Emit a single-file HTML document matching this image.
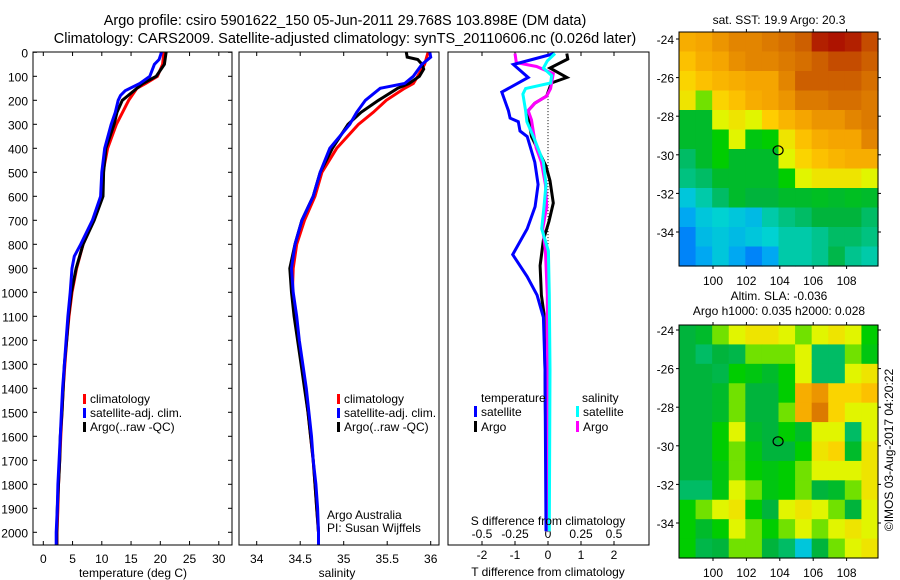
<!DOCTYPE html>
<html><head><meta charset="utf-8"><style>
body{margin:0;background:#fff;}
svg{display:block;font-family:"Liberation Sans",sans-serif;}
</style></head><body>
<svg id="fig" width="900" height="580" viewBox="0 0 900 580">
<rect width="900" height="580" fill="#fff"/>
<text x="345" y="25" font-size="14.5" text-anchor="middle">Argo profile: csiro 5901622_150 05-Jun-2011 29.768S 103.898E (DM data)</text>
<text x="345" y="43" font-size="14.5" text-anchor="middle">Climatology: CARS2009. Satellite-adjusted climatology: synTS_20110606.nc (0.026d later)</text>
<g id="g"></g>
</svg>
<script>
// ---------- data ----------
const depthTicks=[0,100,200,300,400,500,600,700,800,900,1000,1100,1200,1300,1400,1500,1600,1700,1800,1900,2000];
const tempTicks=[0,5,10,15,20,25,30];
const salTicks=[34,34.5,35,35.5,36];
const tdiffTicks=[-2,-1,0,1,2];
const sdiffTicks=[-0.5,-0.25,0,0.25,0.5];
const lonTicks=[100,102,104,106,108];
const latTicks=[-24,-26,-28,-30,-32,-34];

const tClimDepth=[0,50,100,130,150,200,300,400,500,600,700,800,900,1000,1100,1200,1300,1400,1500,1600,1700,1800,1900,2000,2055];
const tClim=[20.6,20.4,19.5,17.5,16,14.6,12.5,11,10.2,10,8.6,6.8,5.7,4.9,4.4,4.0,3.7,3.4,3.2,3.0,2.8,2.6,2.5,2.35,2.35];
const tSatDepth=[0,30,50,100,130,160,180,200,250,300,400,500,600,700,800,850,900,1000,1100,1200,1300,1400,1500,1600,1700,1800,1900,2000,2055];
const tSat=[20.2,19.8,19,18.2,16.5,14,13.2,12.8,12.3,11.6,10.5,10,9.8,8.4,6.4,5.3,4.9,4.6,4.2,3.9,3.6,3.3,3.1,2.9,2.7,2.5,2.4,2.2,2.2];
const tArgoDepth=[0,50,100,130,200,250,300,400,500,600,700,800,900,1000,1100,1200,1300,1400,1500,1600,1700,1800,1900,2000,2055];
const tArgo=[21,20.7,19.3,17,13.5,12.6,12.1,10.7,10.3,10.2,8.7,6.8,5.6,4.8,4.3,4.0,3.6,3.4,3.2,2.9,2.8,2.6,2.4,2.3,2.3];

const sClimDepth=[0,50,100,130,150,200,250,300,400,500,600,700,800,900,1000,1100,1200,1300,1400,1500,1600,1700,1800,1900,2000,2055];
const sClim=[35.97,35.93,35.85,35.8,35.7,35.49,35.34,35.17,34.92,34.75,34.67,34.55,34.46,34.42,34.41,34.44,34.48,34.52,34.555,34.59,34.62,34.65,34.67,34.69,34.71,34.71];
const sSatDepth=[0,20,50,100,130,150,200,250,300,400,500,600,700,800,900,1000,1100,1200,1300,1400,1500,1600,1700,1800,1900,2000,2055];
const sSat=[35.99,36.0,35.9,35.8,35.7,35.42,35.25,35.15,35.07,34.84,34.73,34.65,34.52,34.44,34.40,34.42,34.46,34.49,34.53,34.57,34.60,34.63,34.65,34.68,34.70,34.71,34.71];
const sArgoDepth=[0,20,30,50,70,100,130,150,200,250,300,400,500,600,700,800,900,1000,1100,1200,1300,1400,1500,1600,1700,1800,1900,2000,2030];
const sArgo=[35.72,35.73,35.85,35.9,35.92,35.87,35.75,35.62,35.4,35.2,35.05,34.87,34.73,34.65,34.52,34.44,34.38,34.40,34.43,34.47,34.51,34.55,34.59,34.62,34.65,34.67,34.69,34.71,34.71];

const dTSatDepth=[5,51,105,166,243,274,289,328,351,458,551,643,735,843,935,1012,1104,1320,1996];
const dTSat=[0.2,-1.05,-0.6,-1.4,-1.2,-1.15,-0.9,-0.85,-0.63,-0.4,-0.3,-0.39,-0.63,-1.07,-0.63,-0.33,-0.14,-0.09,-0.06];
const dTArgoDepth=[5,28,66,105,128,182,212,243,312,351,474,535,628,704,782,889,1012,1089,1320,1719];
const dTArgo=[0.57,0.6,0.06,0.57,0.1,-0.04,-0.4,-0.6,-0.55,-0.5,-0.06,0.06,0.16,0.03,-0.14,-0.24,-0.2,-0.12,-0.09,-0.06];
const dSSatDepth=[5,36,66,97,128,151,174,243,289,366,458,551,643,735,828,1012,1320,1996];
const dSSat=[0.053,-0.005,-0.035,0.028,0.02,-0.17,-0.19,-0.17,-0.16,-0.1,-0.035,-0.015,-0.03,-0.048,0.003,0.01,0.015,0.01];
const dSArgoDepth=[5,43,59,89,151,182,212,243,282,335,397,458,551,643,735,828,1012,1320,1996];
const dSArgo=[-0.25,-0.24,-0.086,0.04,0.02,-0.01,-0.1,-0.15,-0.125,-0.11,-0.09,-0.05,-0.02,-0.01,-0.04,-0.02,-0.005,-0.005,-0.005];

const sstGrid=[
[0.7,0.72,0.75,0.78,0.78,0.8,0.82,0.85,0.95,0.97,0.95,0.88],
[0.65,0.7,0.72,0.76,0.78,0.78,0.8,0.82,0.85,0.88,0.88,0.85],
[0.6,0.65,0.68,0.7,0.72,0.72,0.78,0.85,0.85,0.85,0.85,0.82],
[0.55,0.45,0.6,0.65,0.7,0.72,0.75,0.8,0.8,0.82,0.82,0.8],
[0.35,0.35,0.5,0.55,0.5,0.62,0.68,0.72,0.75,0.75,0.78,0.8],
[0.35,0.35,0.4,0.5,0.38,0.4,0.55,0.65,0.7,0.72,0.72,0.78],
[0.3,0.35,0.4,0.35,0.35,0.35,0.5,0.6,0.65,0.68,0.7,0.7],
[0.28,0.3,0.35,0.35,0.35,0.35,0.4,0.5,0.55,0.55,0.55,0.5],
[0.2,0.25,0.3,0.35,0.33,0.33,0.35,0.35,0.36,0.35,0.36,0.35],
[0.15,0.2,0.22,0.2,0.18,0.25,0.28,0.3,0.33,0.33,0.33,0.3],
[0.1,0.18,0.2,0.18,0.2,0.22,0.25,0.25,0.27,0.3,0.3,0.28],
[0.1,0.15,0.2,0.15,0.1,0.15,0.25,0.25,0.27,0.32,0.27,0.25]];
const slaGrid=[
[0.33,0.35,0.45,0.5,0.55,0.55,0.5,0.45,0.5,0.55,0.5,0.4],
[0.33,0.3,0.33,0.32,0.45,0.45,0.45,0.5,0.3,0.3,0.45,0.38],
[0.33,0.33,0.32,0.4,0.38,0.35,0.4,0.5,0.3,0.3,0.5,0.55],
[0.33,0.33,0.35,0.45,0.33,0.33,0.4,0.7,0.75,0.6,0.6,0.65],
[0.33,0.33,0.35,0.45,0.33,0.33,0.45,0.7,0.8,0.6,0.5,0.5],
[0.33,0.33,0.4,0.5,0.35,0.33,0.4,0.35,0.5,0.5,0.3,0.5],
[0.33,0.33,0.4,0.45,0.38,0.33,0.33,0.4,0.55,0.6,0.35,0.55],
[0.33,0.33,0.38,0.45,0.4,0.38,0.4,0.45,0.5,0.5,0.5,0.55],
[0.3,0.3,0.38,0.5,0.45,0.38,0.4,0.45,0.33,0.35,0.45,0.55],
[0.4,0.45,0.5,0.55,0.4,0.33,0.5,0.55,0.5,0.45,0.33,0.5],
[0.4,0.35,0.4,0.5,0.45,0.4,0.45,0.5,0.45,0.5,0.55,0.5],
[0.4,0.32,0.33,0.45,0.45,0.33,0.3,0.2,0.33,0.45,0.5,0.55]];
const floatLon=103.898, floatLat=-29.768;

// ---------- helpers ----------
const NS="http://www.w3.org/2000/svg";
const G=document.getElementById('g');
function mk(tag,attrs,parent){const e=document.createElementNS(NS,tag);for(const k in attrs)e.setAttribute(k,attrs[k]);(parent||G).appendChild(e);return e;}
const yD=d=>52.3+d*0.24;
const xT=t=>43.3+t*5.85;
const xS=s=>256.7+(s-34)*87;
const xdT=t=>548+t*33;
const xdS=s=>548+s*132;
const xLon=l=>713+(l-100)*16.7;
const yLatTop=l=>39+(-24-l)*19.3;
const yLatBot=l=>330+(-24-l)*19.3;
function txt(x,y,s,anchor,size,name){const t=mk('text',{x:x,y:y,'font-size':size||12,'text-anchor':anchor||'middle'});t.textContent=s;


return t;}
function line(xs,ys,fx,color,w,name){
 const pts=xs.map((v,i)=>fx(v).toFixed(1)+','+yD(ys[i]).toFixed(1)).join(' ');
 const p=mk('polyline',{points:pts,fill:'none',stroke:color,'stroke-width':w||3,'stroke-linejoin':'miter'});
 
 
}
function frame(x0,x1,y0,y1,name){const r=mk('rect',{x:x0,y:y0,width:x1-x0,height:y1-y0,fill:'none',stroke:'#000','stroke-width':1});

}
function xticks(vals,fx,y0,y1,fmt,name){vals.forEach(v=>{const x=fx(v);mk('line',{x1:x,x2:x,y1:y1,y2:y1-4,stroke:'#000'});mk('line',{x1:x,x2:x,y1:y0,y2:y0+4,stroke:'#000'});
 txt(x,y1+18,fmt?fmt(v):String(v),'middle',12,name);});}

// ---------- panel 1: temperature ----------
const P0=52,P1=545;
depthTicks.forEach(d=>{const y=yD(d);mk('line',{x1:33,x2:37,y1:y,y2:y,stroke:'#000'});mk('line',{x1:228,x2:232,y1:y,y2:y,stroke:'#000'});txt(28,y+5,String(d),'end',12,'depth-tick-label');});
xticks(tempTicks,xT,P0,P1,null,'temperature-tick-label');
line(tClim,tClimDepth,xT,'#f00',3,'temp-climatology-line');
line(tArgo,tArgoDepth,xT,'#000',3,'temp-argo-line');
line(tSat,tSatDepth,xT,'#00f',3,'temp-satellite-line');
frame(33,232,P0,P1,'temperature-panel-frame');
txt(133,577,'temperature (deg C)','middle',12,'temperature-axis-title');
function legend1(x,name){
 [['#f00','climatology',403],['#00f','satellite-adj. clim.',417],['#000','Argo(..raw -QC)',431]].forEach(([c,l,y])=>{
  const r=mk('rect',{x:x,y:y-9,width:3,height:10,fill:c});
  txt(x+7,y,l,'start',12,name+'-label');});
}
legend1(83,'temperature-legend');

// ---------- panel 2: salinity ----------
xticks(salTicks,xS,P0,P1,null,'salinity-tick-label');
line(sClim,sClimDepth,xS,'#f00',3,'sal-climatology-line');
line(sArgo,sArgoDepth,xS,'#000',3,'sal-argo-line');
line(sSat,sSatDepth,xS,'#00f',3,'sal-satellite-line');
frame(239,439,P0,P1,'salinity-panel-frame');
txt(337,577,'salinity','middle',12,'salinity-axis-title');
legend1(337,'salinity-legend');
txt(327,519,'Argo Australia','start',12,'institution-label');
txt(327,532,'PI: Susan Wijffels','start',12,'pi-label');

// ---------- panel 3: differences ----------
tdiffTicks.forEach(v=>{const x=xdT(v);mk('line',{x1:x,x2:x,y1:P1,y2:P1-4,stroke:'#000'});mk('line',{x1:x,x2:x,y1:P0,y2:P0+4,stroke:'#000'});txt(x,P1+14,String(v),'middle',12,'tdiff-tick-label');});
sdiffTicks.forEach(v=>{const x=xdS(v);txt(x,538,String(v),'middle',12,'sdiff-tick-label');});
const zl=mk('line',{x1:548,x2:548,y1:yD(170),y2:yD(2000),stroke:'#000','stroke-dasharray':'1,2','stroke-width':1});

line(dTArgo,dTArgoDepth,xdT,'#000',3,'tdiff-argo-line');
line(dSArgo,dSArgoDepth,xdS,'#f0f',3,'sdiff-argo-line');
line(dTSat,dTSatDepth,xdT,'#00f',3,'tdiff-satellite-line');
line(dSSat,dSSatDepth,xdS,'#0ff',3,'sdiff-satellite-line');
frame(448,649,P0,P1,'difference-panel-frame');
txt(548,525,'S difference from climatology','middle',12,'sdiff-axis-title');
txt(548,576,'T difference from climatology','middle',12,'tdiff-axis-title');
txt(481,402,'temperature','start',12,'tdiff-legend-title');
txt(582,402,'salinity','start',12,'sdiff-legend-title');
[['#00f','satellite',474,416],['#000','Argo',474,431],['#0ff','satellite',576,416],['#f0f','Argo',576,431]].forEach(([c,l,x,y])=>{
 const r=mk('rect',{x:x,y:y-10,width:3,height:11,fill:c});
 txt(x+7,y,l,'start',12,'diff-legend-label');});

// ---------- maps ----------
const stops=[[0,[0,40,220]],[0.12,[0,150,255]],[0.22,[0,210,210]],[0.33,[0,180,60]],[0.4,[0,205,0]],[0.5,[225,245,0]],[0.62,[255,205,0]],[0.72,[245,165,0]],[0.85,[205,95,0]],[1,[165,0,0]]];
function cmap(v){for(let i=1;i<stops.length;i++){if(v<=stops[i][0]){const a=stops[i-1],b=stops[i];const f=(v-a[0])/(b[0]-a[0]);return 'rgb('+a[1].map((c,k)=>Math.round(c+(b[1][k]-c)*f)).join(',')+')';}}return 'rgb(165,0,0)';}
function drawMap(grid,y0,y1,yLat,name){
 const x0=679,x1=878,nr=grid.length,nc=grid[0].length,cw=(x1-x0)/nc,ch=(y1-y0)/nr;
 grid.forEach((row,i)=>row.forEach((v,j)=>{const r=mk('rect',{x:(x0+j*cw).toFixed(2),y:(y0+i*ch).toFixed(2),width:(cw+0.6).toFixed(2),height:(ch+0.6).toFixed(2),fill:cmap(v)});
  
  }));
 frame(x0,x1,y0,y1,name+'-frame');
 lonTicks.forEach(l=>{const x=xLon(l);mk('line',{x1:x,x2:x,y1:y0,y2:y0-3,stroke:'#000'});mk('line',{x1:x,x2:x,y1:y1,y2:y1+3,stroke:'#000'});txt(x,y1+19,String(l),'middle',12,name+'-lon-label');});
 latTicks.forEach(l=>{const y=yLat(l);mk('line',{x1:x0,x2:x0-3,y1:y,y2:y,stroke:'#000'});mk('line',{x1:x1,x2:x1+3,y1:y,y2:y,stroke:'#000'});txt(x0-5,y+5,String(l),'end',12,name+'-lat-label');});
 const c=mk('ellipse',{cx:xLon(floatLon),cy:yLat(floatLat),rx:5,ry:4.5,fill:'none',stroke:'#000','stroke-width':1.2});
 
}
drawMap(sstGrid,32,266,yLatTop,'sst-map');
drawMap(slaGrid,325,558,yLatBot,'sla-map');
txt(779,24,'sat. SST: 19.9 Argo: 20.3','middle',12,'sst-map-title');
txt(779,300,'Altim. SLA: -0.036','middle',12,'sla-map-title');
txt(779,315,'Argo h1000: 0.035 h2000: 0.028','middle',12,'sla-map-subtitle');
const cr=txt(0,0,'©IMOS 03-Aug-2017 04:20:22','middle',12,'copyright-label');
cr.setAttribute('transform','translate(893,450) rotate(-90)');
</script>
</body></html>
